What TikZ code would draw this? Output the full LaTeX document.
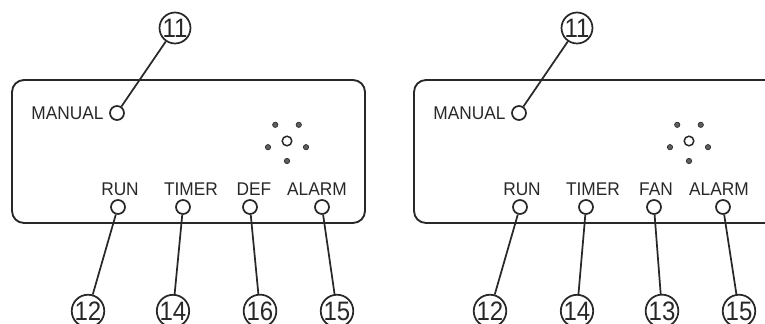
\documentclass[tikz,border=0pt]{standalone}
\usepackage{fontspec}
\setmainfont[FakeStretch=0.94]{Liberation Sans}
\newfontfamily\numfont[FakeStretch=0.9]{Liberation Sans}
\usetikzlibrary{positioning}
\definecolor{panel-ink}{RGB}{40,40,40}
\definecolor{dot-gray}{RGB}{95,95,95}

\begin{document}
\begin{tikzpicture}[
        x=0.75pt, y=-0.75pt,
        panel/.style={draw=panel-ink, line width=1.4pt, rounded corners=9pt},
        led/.style={draw=panel-ink, circle, line width=1.3pt, minimum size=10.5pt, inner sep=0pt},
        tag/.style={text=panel-ink, inner sep=0pt, font=\fontsize{13.8}{15}\selectfont},
        callout/.style={draw=panel-ink, circle, line width=1.3pt, minimum size=22pt, inner sep=0pt, text=panel-ink, font=\numfont\fontsize{20}{20}\selectfont},
        leader/.style={draw=panel-ink, line width=1.3pt},
        hole/.style={draw=panel-ink, fill=dot-gray, line width=0.5pt}
    ]
        \clip (0,0) rectangle (765,324);

        % Left panel (DEF)
        \draw[panel] (12,80) rectangle (365,223);
        \node[led] (l-manual) at (117,113) {};
        \node[tag, left=4pt of l-manual] (l-manual-tag) {MANUAL};
        \node[led] (l-run) at (118,207) {};
        \node[led] (l-timer) at (183,207) {};
        \node[led] (l-def) at (250,207) {};
        \node[led] (l-alarm) at (322,207) {};
        \node[tag] (l-run-tag) at (120,189) {RUN};
        \node[tag] (l-timer-tag) at (191,189) {TIMER};
        \node[tag] (l-def-tag) at (254,189) {DEF};
        \node[tag] (l-alarm-tag) at (317,189) {ALARM};

        % Buzzer holes
        \begin{scope}[shift={(287,141)}]
            \draw[panel-ink, line width=1.1pt] (0,0) circle (3.6pt);
            \foreach \a in {18,90,162,234,306}
                \filldraw[hole] (\a:20) circle (2pt);
        \end{scope}

        % Callouts
        \node[callout] (l-c11) at (175,28) {11};
        \node[callout] (l-c12) at (88,311) {12};
        \node[callout] (l-c14) at (173,311) {14};
        \node[callout] (l-c16) at (260,311) {16};
        \node[callout] (l-c15) at (337,311) {15};
        \draw[leader] (l-c11) -- (l-manual);
        \draw[leader] (l-run) -- (l-c12);
        \draw[leader] (l-timer) -- (l-c14);
        \draw[leader] (l-def) -- (l-c16);
        \draw[leader] (l-alarm) -- (l-c15);

        % Right panel (FAN)
        \begin{scope}[shift={(402,0)}]
            \draw[panel] (12,80) rectangle (378,223);
            \node[led] (r-manual) at (117,113) {};
            \node[tag, left=4pt of r-manual] (r-manual-tag) {MANUAL};
            \node[led] (r-run) at (118,207) {};
            \node[led] (r-timer) at (184,207) {};
            \node[led] (r-fan) at (252,207) {};
            \node[led] (r-alarm) at (321,207) {};
            \node[tag] (r-run-tag) at (120,189) {RUN};
            \node[tag] (r-timer-tag) at (191,189) {TIMER};
            \node[tag] (r-fan-tag) at (254,189) {FAN};
            \node[tag] (r-alarm-tag) at (317,189) {ALARM};

            % Buzzer holes
            \begin{scope}[shift={(287,141)}]
                \draw[panel-ink, line width=1.1pt] (0,0) circle (3.6pt);
                \foreach \a in {18,90,162,234,306}
                    \filldraw[hole] (\a:20) circle (2pt);
            \end{scope}

            % Callouts
            \node[callout] (r-c11) at (175,28) {11};
            \node[callout] (r-c12) at (88,311) {12};
            \node[callout] (r-c14) at (175,311) {14};
            \node[callout] (r-c13) at (260,311) {13};
            \node[callout] (r-c15) at (337,311) {15};
            \draw[leader] (r-c11) -- (r-manual);
            \draw[leader] (r-run) -- (r-c12);
            \draw[leader] (r-timer) -- (r-c14);
            \draw[leader] (r-fan) -- (r-c13);
            \draw[leader] (r-alarm) -- (r-c15);
        \end{scope}
    \end{tikzpicture}
\end{document}
